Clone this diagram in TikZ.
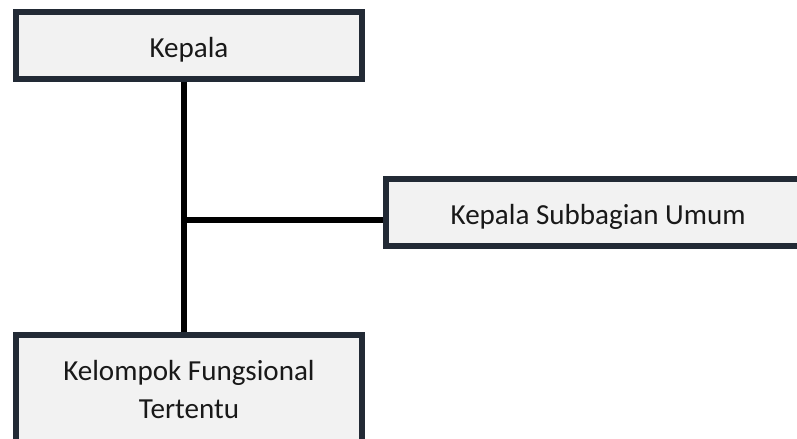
\documentclass[tikz,border=0pt]{standalone}
\usepackage{fontspec}
\setmainfont{Carlito}
\definecolor{boxline}{HTML}{222A35}
\definecolor{boxfill}{HTML}{F2F2F2}
\begin{document}
\begin{tikzpicture}[x=0.75pt,y=-0.75pt,
  box/.style={draw=boxline, fill=boxfill, line width=4.5pt, inner sep=0pt,
    font=\fontsize{21.8pt}{28.5pt}\selectfont, text=black!90, align=center},
  conn/.style={line width=4.2pt, black}]
\useasboundingbox (0,0) rectangle (797,439);
\clip (0,0) rectangle (797,439);
\node[box, minimum width=259.5pt, minimum height=50.5pt, text height=18pt, text depth=0pt] (kepala) at (189,45.35) {Kepala};
\node[box, minimum width=317.8pt, minimum height=50.25pt, text height=18pt, text depth=0pt] (sub) at (598.15,212.5) {Kepala Subbagian Umum};
\node[box, minimum width=259.5pt, minimum height=82.5pt] (kfs) at (189,390) {Kelompok Fungsional\\Tertentu};
\coordinate (vx) at (184,0);
\coordinate (jn) at (184,219.7);
\draw[conn] (kepala.south -| vx) -- (kfs.north -| vx);
\draw[conn] (jn) -- (jn -| sub.west);
\end{tikzpicture}
\end{document}
